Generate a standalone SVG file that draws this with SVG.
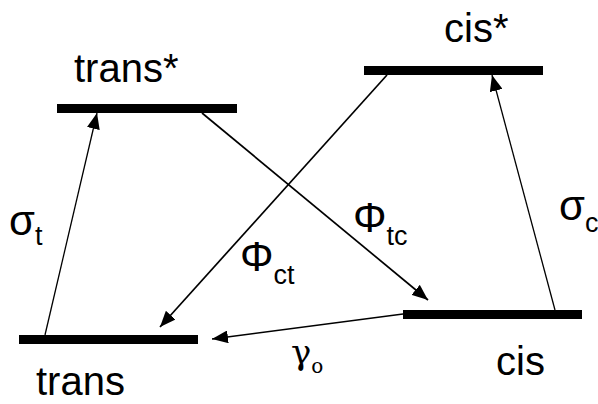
<svg xmlns="http://www.w3.org/2000/svg" width="598" height="404" viewBox="0 0 598 404">
<style>
.lvl{fill:#000}
.lbl{font-family:"Liberation Sans",Arial,Helvetica,sans-serif;font-size:40px;fill:#000}
.gr{font-family:"Liberation Sans",Arial,Helvetica,sans-serif;fill:#000}
.sr{font-family:"DejaVu Serif","Liberation Serif",serif;fill:#000}
.thin{stroke:#000;stroke-width:1.3;fill:none}
.med{stroke:#000;stroke-width:1.7;fill:none}
</style>
<defs>
<marker id="ah" markerUnits="userSpaceOnUse" markerWidth="17" markerHeight="13" refX="16" refY="6.5" orient="auto" viewBox="0 0 17 13">
<path d="M0,0 L16,6.5 L0,13 Z" fill="#000"/>
</marker>
</defs>
<rect width="598" height="404" fill="#fff"/>
<g id="trans_star">
<rect class="lvl" x="57" y="104" width="180" height="9"/>
<text class="lbl" x="74" y="82">trans*</text>
</g>
<g id="cis_star">
<rect class="lvl" x="364" y="66" width="179" height="9"/>
<text class="lbl" x="444" y="42">cis*</text>
</g>
<g id="trans">
<rect class="lvl" x="19" y="335" width="179" height="9"/>
<text class="lbl" x="36" y="395">trans</text>
</g>
<g id="cis">
<rect class="lvl" x="403" y="310" width="179" height="9"/>
<text class="lbl" x="496" y="375">cis</text>
</g>
<g id="connectors">
<line class="thin" x1="45" y1="335" x2="97" y2="113" marker-end="url(#ah)"/>
<line class="thin" x1="555" y1="310" x2="492" y2="75" marker-end="url(#ah)"/>
<line class="med" x1="202" y1="113" x2="428" y2="300" marker-end="url(#ah)"/>
<line class="med" x1="387" y1="75" x2="160" y2="327" marker-end="url(#ah)"/>
<line class="thin" x1="403" y1="314" x2="212" y2="339" marker-end="url(#ah)"/>
<text class="gr" x="9" y="235" font-size="42">σ<tspan font-size="27" dy="10">t</tspan></text>
<text class="gr" x="559" y="220" font-size="42">σ<tspan font-size="27" dy="12">c</tspan></text>
<text class="gr" x="240" y="271" font-size="42">Φ<tspan font-size="27" dy="13">ct</tspan></text>
<text class="gr" x="353" y="232" font-size="42">Φ<tspan font-size="27" dy="13">tc</tspan></text>
<text class="sr" x="291" y="364" font-size="34">γ<tspan font-size="20" dy="9">o</tspan></text>
</g>
</svg>
